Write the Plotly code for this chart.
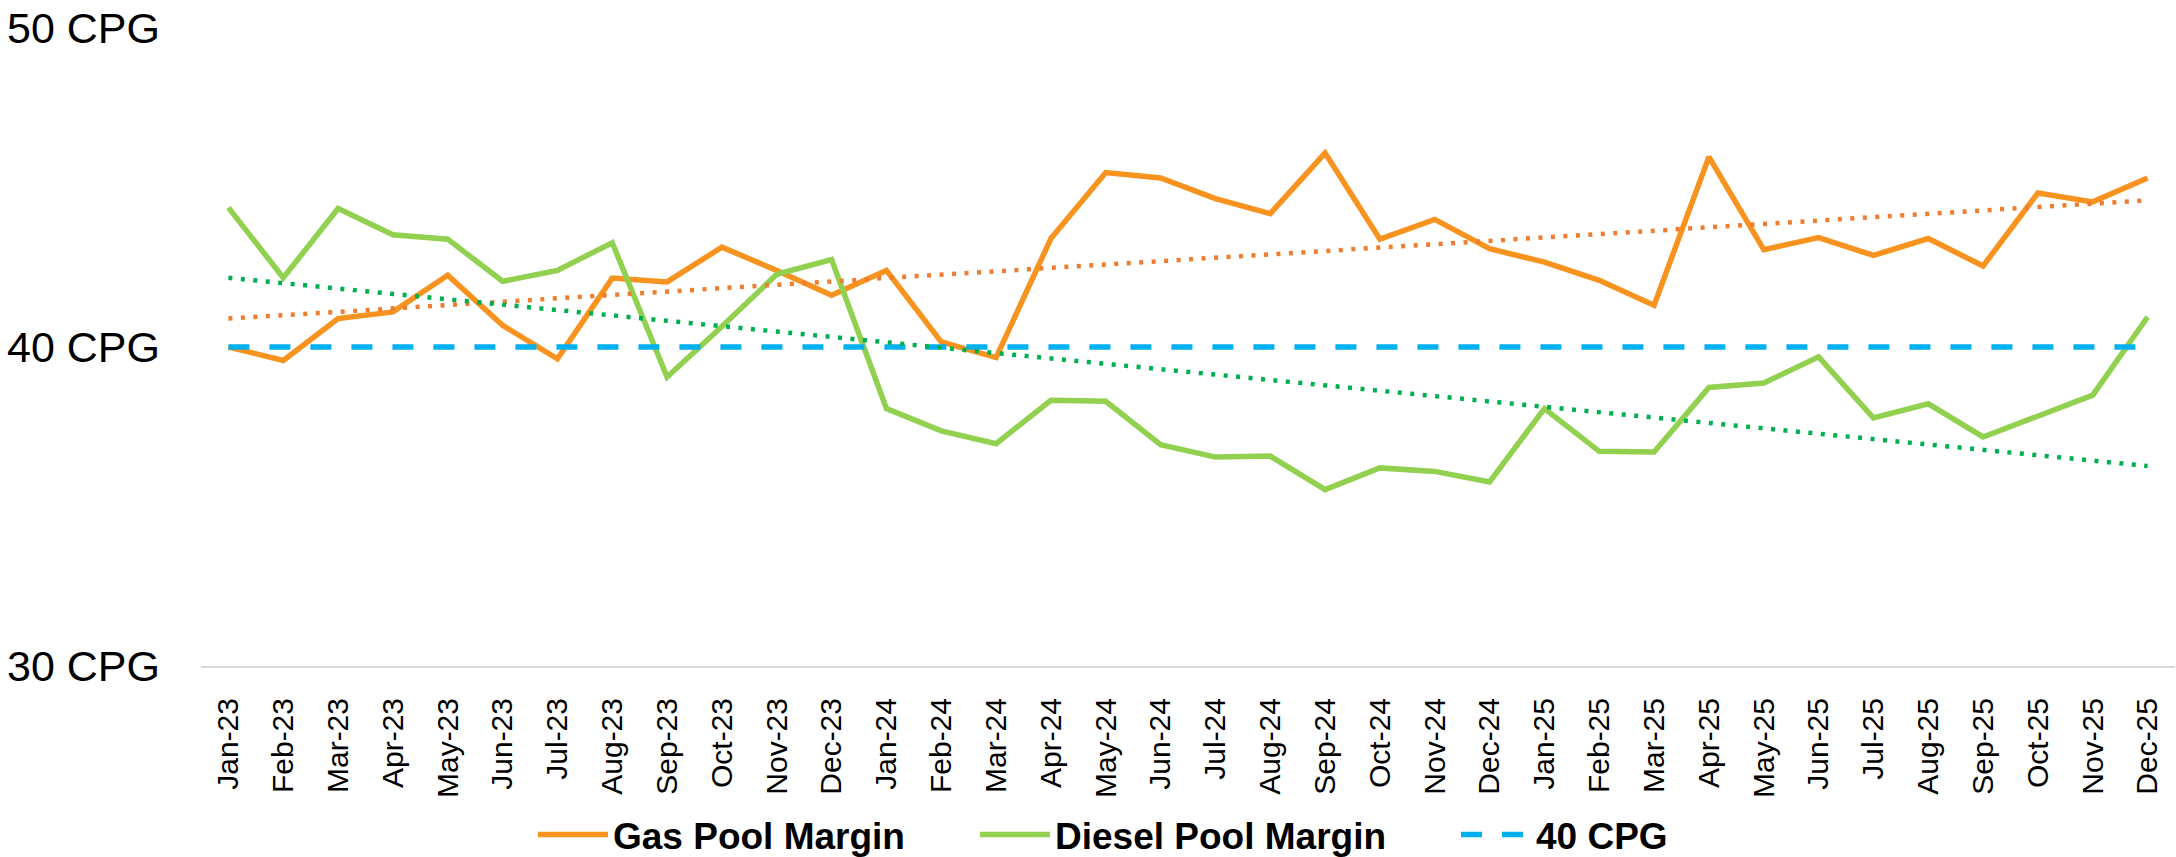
import plotly.graph_objects as go

months = ["Jan-23", "Feb-23", "Mar-23", "Apr-23", "May-23", "Jun-23", "Jul-23", "Aug-23", "Sep-23", "Oct-23", "Nov-23", "Dec-23",
          "Jan-24", "Feb-24", "Mar-24", "Apr-24", "May-24", "Jun-24", "Jul-24", "Aug-24", "Sep-24", "Oct-24", "Nov-24", "Dec-24",
          "Jan-25", "Feb-25", "Mar-25", "Apr-25", "May-25", "Jun-25", "Jul-25", "Aug-25", "Sep-25", "Oct-25", "Nov-25", "Dec-25"]

gas = [40.0, 39.58, 40.89, 41.10, 42.25, 40.68, 39.63, 42.16, 42.04, 43.13, 42.40, 41.62,
       42.40, 40.16, 39.67, 43.40, 45.47, 45.30, 44.65, 44.18, 46.08, 43.38, 44.00, 43.08,
       42.66, 42.09, 41.31, 45.96, 43.05, 43.43, 42.87, 43.40, 42.54, 44.83, 44.55, 45.30]

diesel = [44.37, 42.17, 44.34, 43.52, 43.38, 42.06, 42.40, 43.27, 39.06, 40.64, 42.28, 42.74,
          38.07, 37.37, 36.97, 38.33, 38.30, 36.94, 36.55, 36.58, 35.53, 36.21, 36.10, 35.77,
          38.07, 36.73, 36.71, 38.73, 38.87, 39.69, 37.78, 38.22, 37.18, 37.83, 38.49, 40.94]

target = [40] * len(months)

# linear trendline endpoints (first and last month)
gas_trend = [40.89, 44.60]
diesel_trend = [42.17, 36.27]
trend_x = [months[0], months[-1]]

y_ticks = [30, 40, 50]
y_tick_text = ["30 CPG", "40 CPG", "50 CPG"]

FONT = "Liberation Sans, Arial, sans-serif"
W, H = 2176, 857

fig = go.Figure()
fig.add_trace(go.Scatter(x=months, y=gas, mode="lines", name="<b>Gas Pool Margin</b>", legend="legend",
                         line=dict(color="#F7931E", width=5.5)))
fig.add_trace(go.Scatter(x=months, y=diesel, mode="lines", name="<b>Diesel Pool Margin</b>", legend="legend2",
                         line=dict(color="#92D050", width=5.5)))
fig.add_trace(go.Scatter(x=months, y=target, mode="lines", name="<b>40 CPG</b>", legend="legend3",
                         line=dict(color="#00B0F0", width=5.5, dash="21px,20px")))
fig.add_trace(go.Scatter(x=trend_x, y=gas_trend, mode="lines", showlegend=False, hoverinfo="skip",
                         line=dict(color="#ED7D31", width=4.5, dash="4px,8.5px")))
fig.add_trace(go.Scatter(x=trend_x, y=diesel_trend, mode="lines", showlegend=False, hoverinfo="skip",
                         line=dict(color="#00B050", width=4.5, dash="4px,8.5px")))


def leg(px):
    return dict(orientation="h", xref="container", yref="paper",
                x=px / W, xanchor="left", y=-0.265, yanchor="middle",
                font=dict(size=37, family=FONT, color="black"), itemwidth=70,
                bgcolor="rgba(0,0,0,0)", borderwidth=0)


fig.update_layout(
    width=W, height=H,
    margin=dict(l=201, r=1, t=28, b=191, autoexpand=False),
    paper_bgcolor="white", plot_bgcolor="white",
    font=dict(family=FONT, color="black"),
    showlegend=True,
    legend=leg(533),
    legend2=leg(975),
    legend3=leg(1456),
)
fig.update_xaxes(
    type="category", range=[-0.5, len(months) - 0.5],
    showline=True, linecolor="#D9D9D9", linewidth=2,
    showgrid=False, zeroline=False, ticks="",
    tickangle=-90, tickfont=dict(size=30, family=FONT, color="black"),
    ticklabelstandoff=18,
)
fig.update_yaxes(
    range=[30, 50], tickvals=y_ticks, ticktext=y_tick_text,
    showline=False, showgrid=False, zeroline=False, ticks="",
    tickfont=dict(size=43, family=FONT, color="black"),
    ticklabelstandoff=40,
)

fig.write_html("out.html", config={"displayModeBar": False},
               post_script="document.body.style.margin='0';document.body.style.overflow='hidden';")
